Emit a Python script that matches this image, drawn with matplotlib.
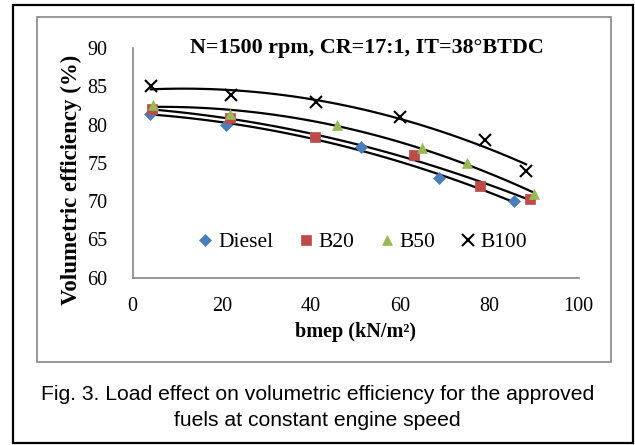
import numpy as np
import matplotlib.pyplot as plt
from matplotlib.patches import Rectangle
from matplotlib.lines import Line2D

# bmep (kN/m^2) and volumetric efficiency (%)
diesel_x = [3.9, 21.0, 51.2, 68.6, 85.6]
diesel_y = [81.4, 80.0, 77.1, 73.0, 70.0]
b20_x = [4.3, 21.9, 40.9, 63.0, 77.9, 89.1]
b20_y = [82.0, 80.8, 78.4, 76.0, 72.0, 70.3]
b50_x = [4.5, 21.9, 45.8, 64.8, 74.9, 89.9]
b50_y = [82.6, 81.4, 79.9, 77.0, 75.0, 70.9]
b100_x = [4.1, 22.0, 41.1, 60.0, 79.0, 88.2]
b100_y = [85.0, 83.9, 83.0, 81.0, 78.0, 74.0]

labels = ['Diesel', 'B20', 'B50', 'B100']
title = 'N=1500 rpm, CR=17:1, IT=38\u00b0BTDC'
caption = ['Fig. 3. Load effect on volumetric efficiency for the approved',
           'fuels at constant engine speed']

W, H = 635, 445
fig = plt.figure(figsize=(W / 100, H / 100), dpi=100)

# outer black frame and grey chart-area frame (pixel coords -> figure fraction)
fig.patches.append(Rectangle((13 / W, 1 - 443 / H), 620 / W, 438 / H,
                             transform=fig.transFigure, fill=False,
                             edgecolor='black', lw=1.6))
fig.patches.append(Rectangle((37 / W, 1 - 362 / H), 574 / W, 345 / H,
                             transform=fig.transFigure, fill=False,
                             edgecolor='#868686', lw=1.2))

ax = fig.add_axes([132.5 / W, 1 - 277.7 / H, 446.2 / W, 229.7 / H])

serif = 'Liberation Serif'
series = [
    (diesel_x, diesel_y, 'D', '#4a7ebb', 6),
    (b20_x, b20_y, 's', '#be4b48', 6.5),
    (b50_x, b50_y, '^', '#98b954', 7),
    (b100_x, b100_y, 'x', 'black', 8),
]

handles = []
for (xs, ys, m, c, ms), lab in zip(series, labels):
    mew = 1.5 if m == 'x' else 0.5
    ax.plot(xs, ys, linestyle='none', marker=m, color=c, markersize=ms,
            markeredgewidth=mew, zorder=3)
    # second order polynomial trendline, as in the original spreadsheet chart
    coef = np.polyfit(xs, ys, 2)
    tx = np.linspace(min(xs), max(xs), 100)
    ax.plot(tx, np.polyval(coef, tx), color='black', lw=1.6, zorder=2)
    handles.append(Line2D([], [], linestyle='none', marker=m, color=c,
                          markersize=ms, markeredgewidth=mew))

ax.set_xlim(0, 100)
ax.set_ylim(60, 90)
ax.set_xticks(range(0, 101, 20))
ax.set_yticks(range(60, 91, 5))
for s in ['top', 'right']:
    ax.spines[s].set_visible(False)
for s in ['left', 'bottom']:
    ax.spines[s].set_color('#868686')
    ax.spines[s].set_linewidth(1.2)
ax.tick_params(length=0, labelsize=14.5, pad=14)
ax.tick_params(axis='y', pad=18)
for t in ax.get_xticklabels() + ax.get_yticklabels():
    t.set_fontfamily(serif)

ax.set_xlabel('bmep (kN/m\u00b2)', fontsize=14.5, fontweight='bold',
              fontfamily=serif)
ax.xaxis.set_label_coords(0.5, -0.195)
ax.set_ylabel('Volumetric efficiency (%)', fontsize=16.5, fontweight='bold',
              fontfamily=serif)
ax.yaxis.set_label_coords(-0.113, 0.425)
ax.text(0.525, 1.0, title, transform=ax.transAxes, ha='center', va='center',
        fontsize=15.8, fontweight='bold', fontfamily=serif)

ax.legend(handles, labels, ncol=4, loc='center', bbox_to_anchor=(0.512, 0.155),
          frameon=False, prop={'family': serif, 'size': 15.5},
          handletextpad=0.1, columnspacing=1.0, handlelength=1.0)

fig.text(0.5, 1 - 395 / H, caption[0], ha='center', va='center',
         fontsize=15.2, fontfamily='Liberation Sans')
fig.text(0.5, 1 - 420 / H, caption[1], ha='center', va='center',
         fontsize=15.2, fontfamily='Liberation Sans')

fig.savefig('out.png', dpi=100)
